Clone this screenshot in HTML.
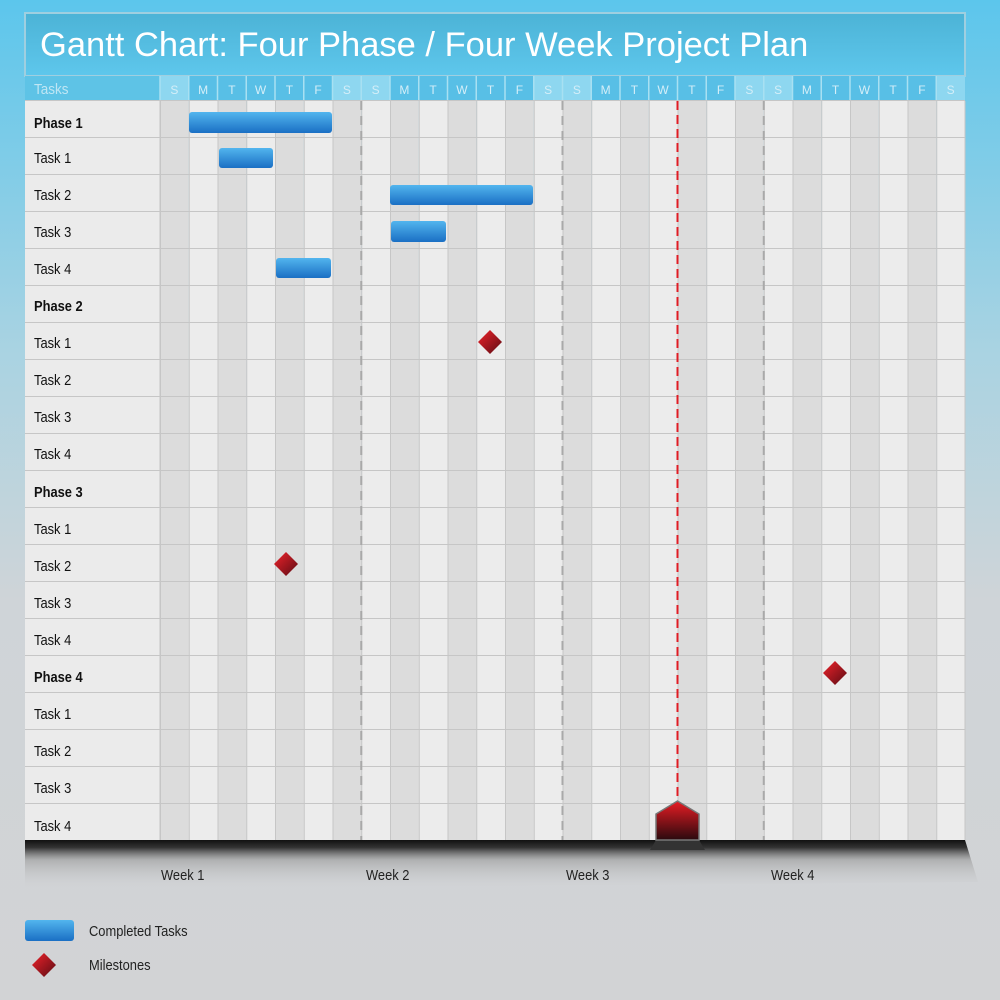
<!DOCTYPE html>
<html><head><meta charset="utf-8"><style>
html,body{margin:0;padding:0;width:1000px;height:1000px;overflow:hidden;}
svg{display:block;font-family:"Liberation Sans",sans-serif;}
</style></head><body>
<svg width="1000" height="1000" viewBox="0 0 1000 1000" xmlns="http://www.w3.org/2000/svg">
<defs>
<linearGradient id="bg" x1="0" y1="0" x2="0" y2="1">
<stop offset="0" stop-color="#5cc6ec"/><stop offset="0.35" stop-color="#a9d3e2"/><stop offset="0.6" stop-color="#cfd4d8"/><stop offset="1" stop-color="#d2d3d5"/></linearGradient>
<linearGradient id="title" x1="0" y1="0" x2="0" y2="1"><stop offset="0" stop-color="#4cb3d6"/><stop offset="1" stop-color="#5ec7ec"/></linearGradient>
<linearGradient id="bar" x1="0" y1="0" x2="0" y2="1"><stop offset="0" stop-color="#52b5ee"/><stop offset="1" stop-color="#1a6fc4"/></linearGradient>
<linearGradient id="dia" x1="0" y1="0" x2="1" y2="1"><stop offset="0" stop-color="#f0222a"/><stop offset="1" stop-color="#5a0c14"/></linearGradient>
<linearGradient id="mk" x1="0" y1="0" x2="0" y2="1"><stop offset="0" stop-color="#e81c24"/><stop offset="1" stop-color="#2a0a0e"/></linearGradient>
<linearGradient id="shelf" x1="0" y1="0" x2="0" y2="1"><stop offset="0" stop-color="#111"/><stop offset="0.15" stop-color="#333"/><stop offset="0.4" stop-color="#999" stop-opacity="0.6"/><stop offset="1" stop-color="#d2d3d5" stop-opacity="0"/></linearGradient>
<pattern id="cols" x="160" y="0" width="57.5" height="1000" patternUnits="userSpaceOnUse">
<rect width="28.75" height="1000" fill="#dcdcdc"/><rect x="28.75" width="28.75" height="1000" fill="#ececec"/>
<rect width="1" height="1000" fill="#c6c6c6"/><rect x="28.75" width="1" height="1000" fill="#c6c6c6"/></pattern>
<pattern id="rows" x="0" y="100" width="10" height="37" patternUnits="userSpaceOnUse"><rect width="10" height="1" fill="#c6c6c6"/></pattern>
</defs>
<rect width="1000" height="1000" fill="url(#bg)"/>
<polygon points="25,840 965,840 978,882 25,890" fill="url(#shelf)"/>
<rect x="25" y="13" width="940" height="63" fill="url(#title)" stroke="#9fcfe0" stroke-width="2"/>
<text x="40" y="56" font-size="34.5" fill="#fff">Gantt Chart: Four Phase / Four Week Project Plan</text>
<rect x="25" y="76" width="940" height="25" fill="#58bfe6"/>
<rect x="25" y="76" width="135" height="25" fill="#5ec3e6"/>
<text transform="translate(34,94) scale(0.9,1)" font-size="15" fill="#bfe6f4">Tasks</text>
<g fill="#8ed7f0">
<rect x="160" y="76" width="28.75" height="25"/><rect x="332.5" y="76" width="57.5" height="25"/><rect x="533.75" y="76" width="57.5" height="25"/><rect x="735" y="76" width="57.5" height="25"/><rect x="936.25" y="76" width="28.75" height="25"/></g>
<g stroke="#a8e0f2" stroke-width="1.5">
<line x1="188.75" y1="76" x2="188.75" y2="101"/><line x1="217.5" y1="76" x2="217.5" y2="101"/><line x1="246.25" y1="76" x2="246.25" y2="101"/><line x1="275" y1="76" x2="275" y2="101"/><line x1="303.75" y1="76" x2="303.75" y2="101"/><line x1="332.5" y1="76" x2="332.5" y2="101"/><line x1="361.25" y1="76" x2="361.25" y2="101"/><line x1="390" y1="76" x2="390" y2="101"/><line x1="418.75" y1="76" x2="418.75" y2="101"/><line x1="447.5" y1="76" x2="447.5" y2="101"/><line x1="476.25" y1="76" x2="476.25" y2="101"/><line x1="505" y1="76" x2="505" y2="101"/><line x1="533.75" y1="76" x2="533.75" y2="101"/><line x1="562.5" y1="76" x2="562.5" y2="101"/><line x1="591.25" y1="76" x2="591.25" y2="101"/><line x1="620" y1="76" x2="620" y2="101"/><line x1="648.75" y1="76" x2="648.75" y2="101"/><line x1="677.5" y1="76" x2="677.5" y2="101"/><line x1="706.25" y1="76" x2="706.25" y2="101"/><line x1="735" y1="76" x2="735" y2="101"/><line x1="763.75" y1="76" x2="763.75" y2="101"/><line x1="792.5" y1="76" x2="792.5" y2="101"/><line x1="821.25" y1="76" x2="821.25" y2="101"/><line x1="850" y1="76" x2="850" y2="101"/><line x1="878.75" y1="76" x2="878.75" y2="101"/><line x1="907.5" y1="76" x2="907.5" y2="101"/><line x1="936.25" y1="76" x2="936.25" y2="101"/><line x1="160" y1="76" x2="160" y2="101"/></g>
<g font-size="12" fill="#d4eef8" text-anchor="middle">
<text x="174.4" y="94">S</text><text x="203.1" y="94">M</text><text x="231.9" y="94">T</text><text x="260.6" y="94">W</text><text x="289.4" y="94">T</text><text x="318.1" y="94">F</text><text x="346.9" y="94">S</text>
<text x="375.6" y="94">S</text><text x="404.4" y="94">M</text><text x="433.1" y="94">T</text><text x="461.9" y="94">W</text><text x="490.6" y="94">T</text><text x="519.4" y="94">F</text><text x="548.1" y="94">S</text>
<text x="576.9" y="94">S</text><text x="605.6" y="94">M</text><text x="634.4" y="94">T</text><text x="663.1" y="94">W</text><text x="691.9" y="94">T</text><text x="720.6" y="94">F</text><text x="749.4" y="94">S</text>
<text x="778.1" y="94">S</text><text x="806.9" y="94">M</text><text x="835.6" y="94">T</text><text x="864.4" y="94">W</text><text x="893.1" y="94">T</text><text x="921.9" y="94">F</text><text x="950.6" y="94">S</text></g>
<rect x="160" y="101" width="805" height="739" fill="url(#cols)"/>
<rect x="25" y="101" width="135" height="739" fill="#ebebeb"/>
<rect x="25" y="100" width="940" height="740" fill="url(#rows)"/>
<line x1="160" y1="101" x2="160" y2="840" stroke="#c6c6c6"/>
<line x1="965" y1="101" x2="965" y2="840" stroke="#c6c6c6"/>
<g stroke="#a9a9a9" stroke-width="2" stroke-dasharray="9,6">
<line x1="361.25" y1="101" x2="361.25" y2="840"/><line x1="562.5" y1="101" x2="562.5" y2="840"/><line x1="763.75" y1="101" x2="763.75" y2="840"/></g>
<line x1="677.5" y1="101" x2="677.5" y2="805" stroke="#e01c24" stroke-width="2" stroke-dasharray="9,5"/>
<g font-size="15" fill="#111" transform="translate(34,0) scale(0.86,1)">
<text x="0" y="128" font-weight="bold">Phase 1</text><text x="0" y="163">Task 1</text><text x="0" y="200">Task 2</text><text x="0" y="237">Task 3</text><text x="0" y="274">Task 4</text>
<text x="0" y="311" font-weight="bold">Phase 2</text><text x="0" y="348">Task 1</text><text x="0" y="385">Task 2</text><text x="0" y="422">Task 3</text><text x="0" y="459">Task 4</text>
<text x="0" y="497" font-weight="bold">Phase 3</text><text x="0" y="534">Task 1</text><text x="0" y="571">Task 2</text><text x="0" y="608">Task 3</text><text x="0" y="645">Task 4</text>
<text x="0" y="682" font-weight="bold">Phase 4</text><text x="0" y="719">Task 1</text><text x="0" y="756">Task 2</text><text x="0" y="793">Task 3</text><text x="0" y="831">Task 4</text></g>
<g fill="url(#bar)">
<rect x="189" y="112" width="143" height="21" rx="3"/><rect x="219" y="148" width="54" height="20" rx="3"/><rect x="390" y="185" width="143" height="20" rx="3"/><rect x="391" y="221" width="55" height="21" rx="3"/><rect x="276" y="258" width="55" height="20" rx="3"/></g>
<g fill="url(#dia)">
<polygon points="490,330 502,342 490,354 478,342"/><polygon points="286,552 298,564 286,576 274,564"/><polygon points="835,661 847,673 835,685 823,673"/>
<polygon points="44,953 56,965 44,977 32,965"/></g>
<polygon points="650,850 705,850 699,840 656,840" fill="#333"/>
<polygon points="677.5,801 699,814 699,840 656,840 656,814" fill="url(#mk)" stroke="#777" stroke-width="1.5"/>
<g font-size="15" fill="#222">
<text transform="translate(161,880) scale(0.86,1)">Week 1</text>
<text transform="translate(366,880) scale(0.86,1)">Week 2</text>
<text transform="translate(566,880) scale(0.86,1)">Week 3</text>
<text transform="translate(771,880) scale(0.86,1)">Week 4</text></g>
<rect x="25" y="920" width="49" height="21" rx="3" fill="url(#bar)"/>
<text transform="translate(89,936) scale(0.86,1)" font-size="15" fill="#222">Completed Tasks</text>
<text transform="translate(89,970) scale(0.86,1)" font-size="15" fill="#222">Milestones</text>
</svg>
</body></html>
